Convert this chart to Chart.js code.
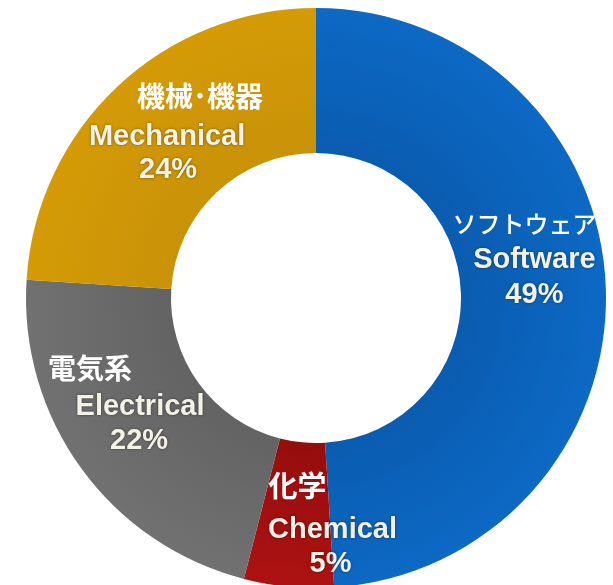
<!DOCTYPE html>
<html>
<head>
<meta charset="utf-8">
<script src="https://cdn.jsdelivr.net/npm/chart.js@4.4.1/dist/chart.umd.min.js"></script>
<style>
html, body { margin: 0; padding: 0; background: #ffffff; overflow: hidden; }
#wrap { position: relative; width: 613px; height: 588px; }
</style>
</head>
<body>
<div id="wrap"><canvas id="share_chart"></canvas></div>
<script>
const categories = ["Software", "Chemical", "Electrical", "Mechanical"];
const japanese_labels = ["ソフトウェア", "化学", "電気系", "機械･機器"];
const shares = [49, 5, 22, 24];

// colour at the hole and at the rim of each segment
const inner_colors = ["#0a5cb0", "#960d0d", "#636363", "#c99208"];
const outer_colors = ["#0c69c4", "#ad1212", "#717171", "#d49b06"];

// nudges from the middle of each arc: japanese line, english line, percent line
const label_offsets = [
    [[-9, -67], [1, -31], [1, 4]],
    [[2, -29], [37, 15], [35, 49]],
    [[-50, -57], [0, -19], [-1, 15]],
    [[33, -43], [0, -2], [1, 31]]
];
const japanese_fonts = [
    "500 24px 'Noto Sans CJK JP'",
    "bold 29px 'Noto Sans CJK JP'",
    "bold 28px 'Noto Sans CJK JP'",
    "bold 28px 'Noto Sans CJK JP'"
];

function ring_gradient(context)
{
    const chart = context.chart;
    const area = chart.chartArea;
    const i = context.dataIndex;
    if (!area) return outer_colors[i];
    const cx = (area.left + area.right) / 2;
    const cy = (area.top + area.bottom) / 2;
    const r = Math.min(area.right - area.left, area.bottom - area.top) / 2;
    const g = chart.ctx.createRadialGradient(cx, cy, r * 0.5, cx, cy, r);
    g.addColorStop(0, inner_colors[i]);
    g.addColorStop(1, outer_colors[i]);
    return g;
}

const ring_labels =
{
    id: "ring_labels",
    afterDatasetsDraw(chart)
    {
        const ctx = chart.ctx;
        const arcs = chart.getDatasetMeta(0).data;
        ctx.save();
        ctx.textAlign = "center";
        ctx.textBaseline = "middle";
        arcs.forEach((arc, i) =>
        {
            const p = arc.tooltipPosition();
            const off = label_offsets[i];

            ctx.shadowColor = "transparent";
            ctx.shadowBlur = 0;
            ctx.fillStyle = "#ffffff";
            ctx.font = japanese_fonts[i];
            ctx.fillText(japanese_labels[i], p.x + off[0][0], p.y + off[0][1]);

            ctx.shadowColor = "rgba(0, 0, 0, 0.45)";
            ctx.shadowBlur = 3;
            ctx.fillStyle = "#f4f2e6";
            ctx.font = "bold 29px 'Liberation Sans', Arial, sans-serif";
            ctx.fillText(categories[i], p.x + off[1][0], p.y + off[1][1]);
            ctx.fillText(shares[i] + "%", p.x + off[2][0], p.y + off[2][1]);
        });
        ctx.restore();
    }
};

const share_chart = new Chart("share_chart",
{
    type: "doughnut",
    data:
    {
        labels: categories,
        datasets:
        [
            {
                data: shares,
                backgroundColor: ring_gradient,
                borderWidth: 0
            }
        ]
    },
    options:
    {
        responsive: true,
        maintainAspectRatio: false,
        animation: false,
        cutout: "50%",
        layout:
        {
            padding: { left: 26, right: 7, top: 8, bottom: 0 }
        },
        plugins:
        {
            legend: { display: false },
            tooltip: { enabled: false }
        }
    },
    plugins: [ring_labels]
});
</script>
</body>
</html>
